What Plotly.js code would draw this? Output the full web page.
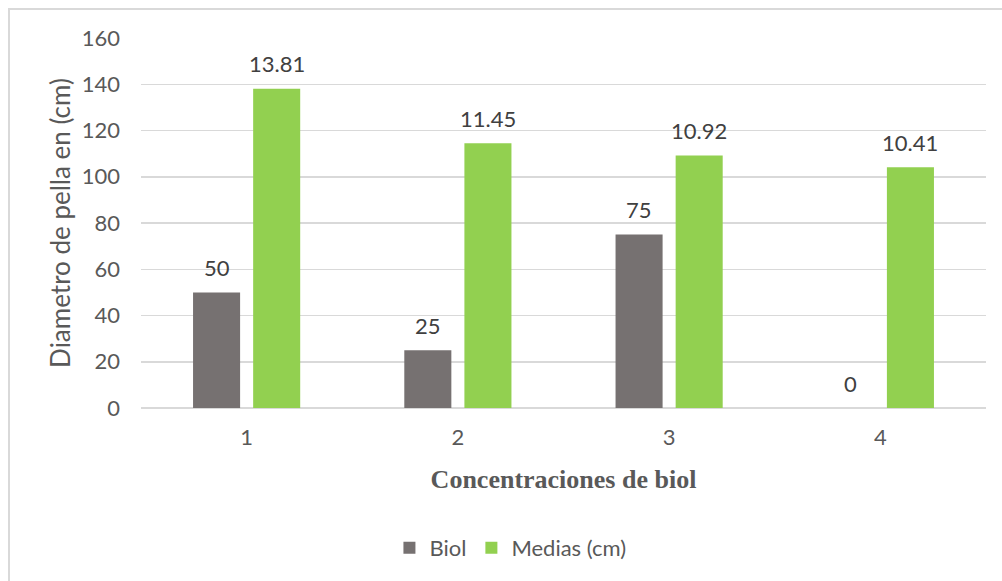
<!DOCTYPE html>
<html>
<head>
<meta charset="utf-8">
<script src="https://cdn.plot.ly/plotly-3.0.1.min.js"></script>
<style>
  html, body { margin: 0; padding: 0; background: #fff; }
  #chart { width: 1002px; height: 581px; }
  #frame {
    position: absolute; left: 8px; top: 8px; width: 1100px; height: 700px;
    border-left: 2px solid #d9d9d9; border-top: 2px solid #d9d9d9;
    pointer-events: none; box-sizing: border-box;
  }
</style>
</head>
<body>
<div id="chart"></div>
<div id="frame"></div>
<script>
// Concentration groups on the x axis
const categories = ['1', '2', '3', '4'];
// Biol dose per group
const biol = [50, 25, 75, 0];
// Mean head diameter (cm); the bars are plotted on a x10 scale
const medias = [13.81, 11.45, 10.92, 10.41];
const mediasScale = 10;
const yTicks = [0, 20, 40, 60, 80, 100, 120, 140, 160];

const mediasPlotted = medias.map(v => v * mediasScale);

const FONT = 'Lato, "Open Sans", sans-serif';
const FS = 22;

const traces = [
  {
    type: 'bar', name: 'Biol', x: categories, y: biol,
    marker: { color: '#767171' }, hoverinfo: 'skip'
  },
  {
    type: 'bar', name: 'Medias (cm)', x: categories, y: mediasPlotted,
    marker: { color: '#92d050' }, hoverinfo: 'skip'
  }
];

// Value labels above each bar (x given as category index)
const annotations = [];
categories.forEach((c, i) => {
  annotations.push({
    x: i, y: biol[i], xref: 'x', yref: 'y', text: String(biol[i]),
    showarrow: false, xshift: -30, yshift: 25, yanchor: 'middle',
    font: { family: FONT, size: FS, color: '#404040' }
  });
  annotations.push({
    x: i, y: mediasPlotted[i], xref: 'x', yref: 'y', text: medias[i].toFixed(2),
    showarrow: false, xshift: 30, yshift: 25, yanchor: 'middle',
    font: { family: FONT, size: FS, color: '#404040' }
  });
});

const layout = {
  width: 1002, height: 581,
  margin: { l: 141, r: 16, t: 38, b: 173, autoexpand: false },
  paper_bgcolor: '#ffffff', plot_bgcolor: '#ffffff',
  font: { family: FONT, size: FS, color: '#595959' },
  barmode: 'group', bargap: 0.431, bargroupgap: 0.217,
  xaxis: {
    type: 'category', showgrid: false, zeroline: false, showline: false,
    automargin: false, range: [-0.5, 3.5],
    ticks: '', ticklabelstandoff: 14,
    tickfont: { family: FONT, size: FS, color: '#595959' },
    title: {
      text: 'Concentraciones de biol', standoff: 20,
      font: { family: '"Liberation Serif", "Times New Roman", serif', size: 26, color: '#595959', weight: 'bold' }
    }
  },
  yaxis: {
    range: [0, 160], tickvals: yTicks, ticktext: yTicks.map(String),
    automargin: false,
    showgrid: true, gridcolor: '#d9d9d9', gridwidth: 1.5,
    zeroline: true, zerolinecolor: '#d9d9d9', zerolinewidth: 1.5,
    showline: false, ticks: '', ticklabelstandoff: 20,
    tickfont: { family: FONT, size: FS, color: '#595959' },
    title: {
      text: 'Diametro de pella en (cm)', standoff: 3,
      font: { family: FONT, size: 26, color: '#595959' }
    }
  },
  showlegend: true,
  legend: {
    orientation: 'h', x: 0.294, xanchor: 'left', y: -0.378, yanchor: 'middle',
    font: { family: FONT, size: FS, color: '#595959' },
    itemwidth: 30, traceorder: 'normal'
  },
  annotations: annotations
};

Plotly.newPlot('chart', traces, layout, { staticPlot: true, displayModeBar: false });
</script>
</body>
</html>
